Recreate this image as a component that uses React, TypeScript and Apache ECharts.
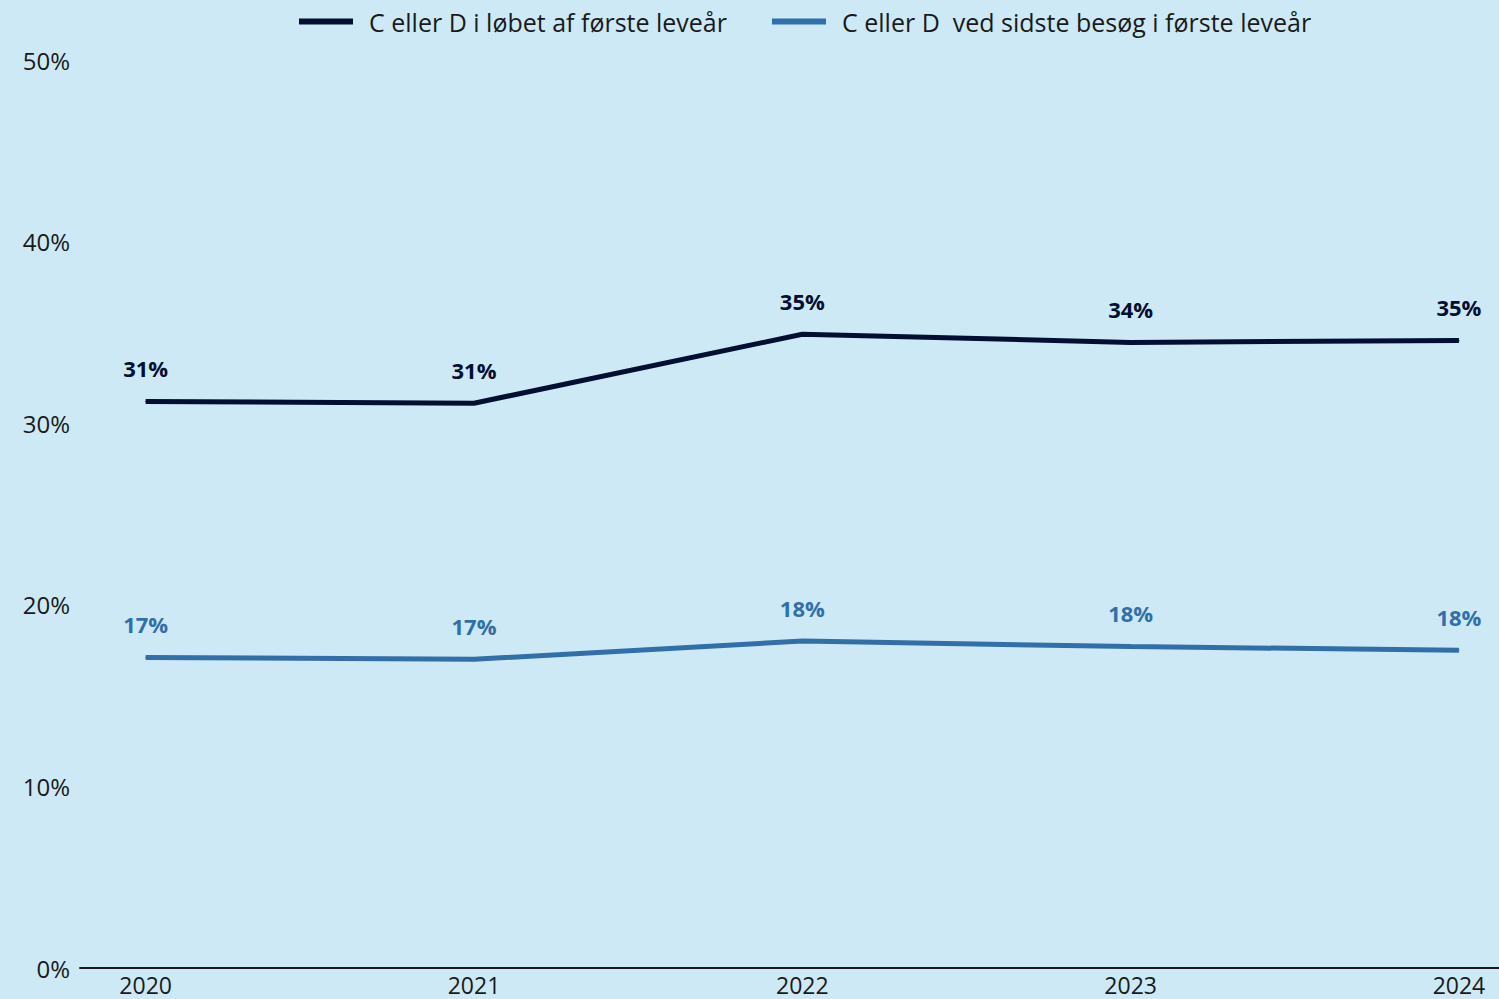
import React, { useEffect, useRef } from "react";
import * as echarts from "echarts";

const years = [2020, 2021, 2022, 2023, 2024];
const seriesNames = [
  "C eller D i løbet af første leveår",
  "C eller D  ved sidste besøg i første leveår",
];
const firstYearValues = [31.2, 31.1, 34.9, 34.45, 34.55];
const lastVisitValues = [17.1, 17.0, 18.0, 17.7, 17.5];
const yTicks = [0, 10, 20, 30, 40, 50];

const colors = ["#020f30", "#326fa8"];
const FONT = "Open Sans";

export default function App() {
  const ref = useRef<HTMLDivElement>(null);
  useEffect(() => {
    if (!ref.current) return;
    const chart = echarts.init(ref.current, undefined, { renderer: "svg" });
    const mk = (name: string, vals: number[], color: string) => ({
      name,
      type: "line",
      data: years.map((y, i) => [y, vals[i]]),
      symbol: "circle",
      symbolSize: 1,
      itemStyle: { color },
      lineStyle: { color, width: 5, cap: "butt" },
      label: {
        show: true,
        position: "top",
        distance: 22,
        color,
        fontFamily: FONT,
        fontWeight: "bold",
        fontSize: 22,
        formatter: (p: any) => Math.round(p.value[1]) + "%",
      },
      emphasis: { disabled: true },
    });
    chart.setOption({
      animation: false,
      backgroundColor: "#cde9f6",
      textStyle: { fontFamily: FONT },
      legend: {
        top: 4,
        left: 294,
        icon: "rect",
        itemWidth: 54,
        itemHeight: 6,
        itemGap: 45,
        textStyle: {
          fontFamily: FONT,
          fontSize: 25,
          color: "#1a1a1a",
          padding: [0, 0, 0, 11],
        },
        data: seriesNames,
      },
      grid: { left: 80, right: 0, top: 60, bottom: 31, containLabel: false },
      xAxis: {
        type: "value",
        min: 2019.8,
        max: 2024.122,
        splitLine: { show: false },
        axisTick: { show: false },
        axisLine: { show: true, onZero: false, lineStyle: { color: "#1a1a1a", width: 2 } },
        axisLabel: {
          customValues: years,
          formatter: (v: number) => String(v),
          color: "#1a1a1a",
          fontSize: 23,
          lineHeight: 23,
          fontFamily: FONT,
          margin: 5,
        },
      },
      yAxis: {
        type: "value",
        min: 0,
        max: 50,
        interval: 10,
        splitLine: { show: false },
        axisLine: { show: false },
        axisTick: { show: false },
        axisLabel: {
          customValues: yTicks,
          formatter: (v: number) => v + "%",
          color: "#1a1a1a",
          fontSize: 24,
          fontFamily: FONT,
          margin: 10,
        },
      },
      series: [
        mk(seriesNames[0], firstYearValues, colors[0]),
        mk(seriesNames[1], lastVisitValues, colors[1]),
      ],
    });
    return () => chart.dispose();
  }, []);
  return (
    <div
      ref={ref}
      style={{ position: "fixed", left: 0, top: 0, width: 1499, height: 999 }}
    />
  );
}
